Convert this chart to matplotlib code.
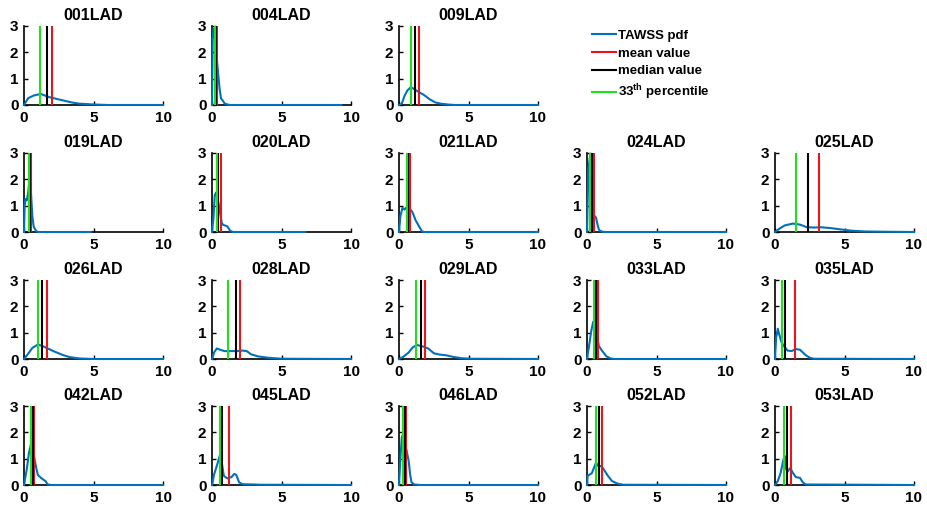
import numpy as np
import matplotlib
matplotlib.use("Agg")
import matplotlib.pyplot as plt

plt.rcParams['font.family'] = ['Liberation Sans', 'DejaVu Sans']
plt.rcParams['font.weight'] = 'bold'
plt.rcParams['mathtext.fontset'] = 'custom'
plt.rcParams['mathtext.bf'] = 'Liberation Sans:bold'
plt.rcParams['mathtext.rm'] = 'Liberation Sans:bold'

# -------------------
# DATA
# -------------------

cases = ["001LAD", "004LAD", "009LAD",
         "019LAD", "020LAD", "021LAD", "024LAD", "025LAD",
         "026LAD", "028LAD", "029LAD", "033LAD", "035LAD",
         "042LAD", "045LAD", "046LAD", "052LAD", "053LAD"]

# grid slot (row, col) of each case
slots = [(0, 0), (0, 1), (0, 2),
         (1, 0), (1, 1), (1, 2), (1, 3), (1, 4),
         (2, 0), (2, 1), (2, 2), (2, 3), (2, 4),
         (3, 0), (3, 1), (3, 2), (3, 3), (3, 4)]

mean_vals   = [2.05, 0.36, 1.44, 0.47, 0.64, 0.76, 0.50, 3.19,
               1.65, 2.02, 1.87, 0.78, 1.46, 0.73, 1.22, 0.50, 1.08, 1.13]
median_vals = [1.62, 0.30, 1.18, 0.40, 0.45, 0.66, 0.33, 2.39,
               1.32, 1.72, 1.57, 0.63, 0.75, 0.64, 0.75, 0.40, 0.88, 0.85]
p33_vals    = [1.17, 0.22, 0.86, 0.33, 0.38, 0.58, 0.20, 1.51,
               0.99, 1.13, 1.24, 0.53, 0.50, 0.47, 0.59, 0.28, 0.65, 0.68]

# TAWSS pdf samples for each case
pdf_x = [
    [0, 0.3, 0.7, 1.2, 1.8, 2.2, 2.6, 3.0, 3.5, 4.0, 5.0, 6.0, 10],
    [0, 0.05, 0.12, 0.2, 0.3, 0.45, 0.55, 0.65, 0.8, 0.9, 1.1, 1.3, 9.3],
    [0, 0.2, 0.4, 0.6, 0.85, 1.1, 1.4, 1.8, 2.2, 2.6, 3.0, 3.5, 4.0, 10],
    [0, 0.05, 0.1, 0.2, 0.3, 0.4, 0.5, 0.6, 0.7, 0.85, 1.0, 4.8],
    [0, 0.1, 0.2, 0.3, 0.5, 0.7, 0.8, 1.1, 1.3, 1.5, 6.7],
    [0, 0.1, 0.25, 0.4, 0.5, 0.6, 0.75, 0.96, 1.2, 1.47, 1.65, 1.8, 10],
    [0, 0.05, 0.1, 0.2, 0.3, 0.45, 0.55, 0.65, 0.75, 0.85, 0.95, 1.2, 10],
    [0, 0.3, 0.7, 1.3, 1.8, 2.3, 2.8, 3.3, 4.0, 4.7, 5.5, 6.5, 8.0, 10],
    [0, 0.3, 0.6, 1.0, 1.3, 1.7, 2.2, 2.8, 3.3, 4.0, 5.0, 10],
    [0, 0.15, 0.35, 0.6, 0.9, 1.3, 1.8, 2.2, 2.5, 2.8, 3.3, 4.0, 5.0, 10],
    [0, 0.3, 0.7, 1.0, 1.3, 1.7, 2.1, 2.5, 2.9, 3.4, 3.9, 4.5, 5.2, 10],
    [0, 0.15, 0.3, 0.45, 0.55, 0.7, 0.85, 1.1, 1.4, 1.7, 2.0, 10],
    [0, 0.08, 0.2, 0.3, 0.45, 0.7, 0.9, 1.2, 1.5, 1.8, 2.2, 2.5, 2.8, 10],
    [0, 0.2, 0.35, 0.5, 0.65, 0.75, 0.9, 1.0, 1.2, 1.4, 1.55, 1.7, 2.0, 10],
    [0, 0.15, 0.3, 0.5, 0.6, 0.7, 0.85, 1.1, 1.4, 1.6, 1.75, 1.95, 2.2, 3.0, 3.5, 10],
    [0, 0.1, 0.2, 0.3, 0.45, 0.55, 0.7, 0.8, 0.9, 1.1, 1.5, 10],
    [0, 0.05, 0.2, 0.35, 0.5, 0.65, 0.8, 1.0, 1.2, 1.5, 1.8, 2.2, 2.6, 10],
    [0, 0.2, 0.4, 0.6, 0.7, 0.8, 0.9, 1.1, 1.3, 1.5, 1.8, 2.0, 2.2, 10],
]
pdf_y = [
    [0, 0.26, 0.36, 0.42, 0.30, 0.25, 0.20, 0.15, 0.09, 0.05, 0.02, 0.0, 0],
    [0, 2.5, 2.9, 2.6, 2.0, 1.14, 0.6, 0.25, 0.15, 0.06, 0.02, 0, 0],
    [0, 0.05, 0.35, 0.55, 0.68, 0.60, 0.50, 0.38, 0.22, 0.10, 0.05, 0.02, 0, 0],
    [0, 1.0, 1.25, 1.2, 1.5, 2.0, 1.5, 0.6, 0.2, 0.05, 0, 0],
    [0, 0.5, 1.4, 1.5, 1.0, 0.35, 0.27, 0.22, 0.05, 0, 0],
    [0, 0.6, 0.92, 0.85, 0.92, 0.95, 0.9, 0.76, 0.44, 0.19, 0.03, 0, 0],
    [0, 1.2, 2.4, 2.8, 2.0, 0.5, 0.6, 0.55, 0.3, 0.1, 0.04, 0, 0],
    [0, 0.12, 0.25, 0.32, 0.28, 0.18, 0.17, 0.18, 0.15, 0.10, 0.05, 0.02, 0.01, 0],
    [0, 0.2, 0.42, 0.55, 0.50, 0.40, 0.28, 0.15, 0.07, 0.02, 0, 0],
    [0, 0.25, 0.40, 0.35, 0.30, 0.30, 0.30, 0.32, 0.30, 0.18, 0.10, 0.05, 0.01, 0],
    [0, 0.08, 0.25, 0.45, 0.53, 0.48, 0.40, 0.22, 0.17, 0.14, 0.08, 0.03, 0.01, 0],
    [0, 0.5, 1.05, 1.42, 1.2, 0.9, 0.5, 0.3, 0.1, 0.02, 0, 0],
    [0, 0.8, 1.15, 0.95, 0.65, 0.45, 0.32, 0.30, 0.38, 0.35, 0.15, 0.05, 0.01, 0],
    [0, 0.6, 1.2, 1.55, 1.25, 1.0, 0.6, 0.38, 0.28, 0.2, 0.15, 0.02, 0, 0],
    [0, 0.4, 0.65, 1.0, 1.2, 0.85, 0.35, 0.25, 0.30, 0.42, 0.38, 0.10, 0.03, 0.02, 0.01, 0],
    [0, 1.0, 1.8, 1.95, 1.5, 1.3, 0.9, 0.4, 0.1, 0.02, 0, 0],
    [0, 0.35, 0.40, 0.45, 0.65, 0.85, 0.72, 0.72, 0.60, 0.35, 0.15, 0.05, 0.01, 0],
    [0, 0.15, 0.45, 0.95, 1.1, 0.6, 0.5, 0.65, 0.45, 0.30, 0.27, 0.10, 0.02, 0],
]

# -------------------
# LAYOUT (pixels)
# -------------------

W, H = 927, 511
col_left = [24, 212, 399, 587, 775]
row_top = [26, 153, 280, 406]
ax_w, ax_h = 139, 79

c_pdf = "#0072BD"
c_mean = "#E8161B"
c_median = "#000000"
c_p33 = "#1EE01E"

fig = plt.figure(figsize=(W / 100, H / 100), dpi=100)

for i, name in enumerate(cases):
    r, c = slots[i]
    ax = fig.add_axes([col_left[c] / W, 1 - (row_top[r] + ax_h) / H, ax_w / W, ax_h / H])
    h_pdf, = ax.plot(pdf_x[i], pdf_y[i], color=c_pdf, lw=1.5, zorder=3, clip_on=False)
    h_mean, = ax.plot([mean_vals[i]] * 2, [0, 3], color=c_mean, lw=1.5, zorder=4)
    h_med, = ax.plot([median_vals[i]] * 2, [0, 3], color=c_median, lw=1.5, zorder=4)
    h_p33, = ax.plot([p33_vals[i]] * 2, [0, 3], color=c_p33, lw=1.5, zorder=4)

    ax.set_xlim(0, 10)
    ax.set_ylim(0, 3)
    ax.set_xticks([0, 5, 10])
    ax.set_yticks([0, 1, 2, 3])
    ax.spines['top'].set_visible(False)
    ax.spines['right'].set_visible(False)
    ax.spines['left'].set_linewidth(1.2)
    ax.spines['bottom'].set_linewidth(1.2)
    ax.tick_params(direction='in', length=3, width=1, labelsize=11, pad=4)
    for lbl in ax.get_xticklabels() + ax.get_yticklabels():
        lbl.set_fontweight('bold')
    ax.set_title(name, fontsize=11.5, fontweight='bold', pad=4)

    if i == 0:
        handles = [h_pdf, h_mean, h_med, h_p33]

fig.legend(handles, ["TAWSS pdf", "mean value", "median value", r"33$^{\mathbf{th}}$ percentile"],
           loc='upper left', bbox_to_anchor=(580 / W, 1 - 18 / H), frameon=False,
           fontsize=9.5, handlelength=1.8, handletextpad=0.15, labelspacing=0.4)

fig.savefig("out.png", dpi=100)
